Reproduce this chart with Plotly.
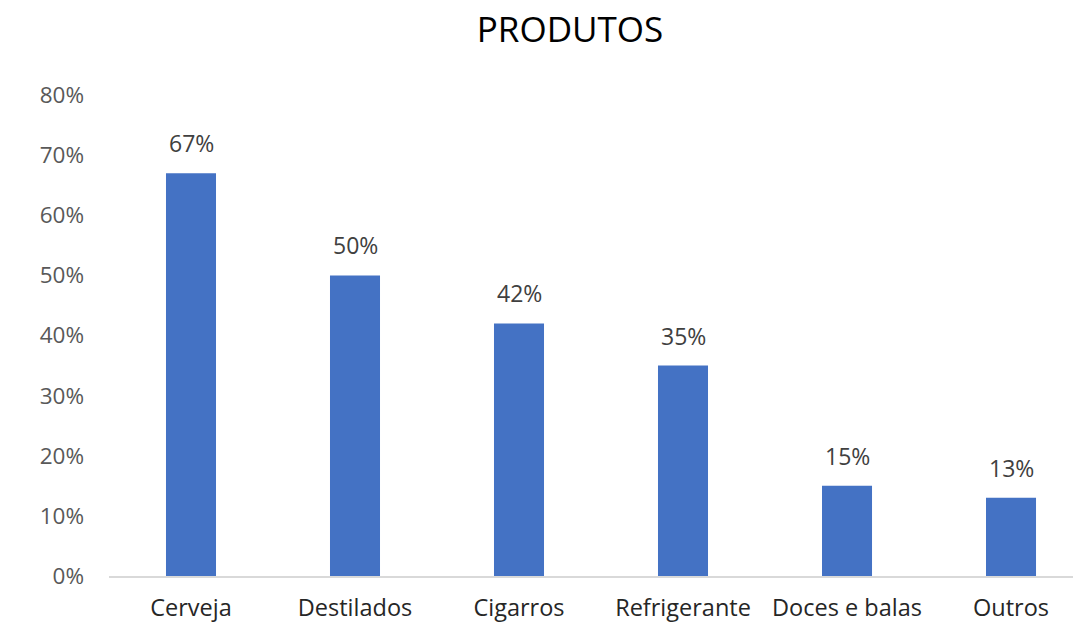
import plotly.graph_objects as go

categorias = ["Cerveja", "Destilados", "Cigarros", "Refrigerante", "Doces e balas", "Outros"]
percentuais = [0.67, 0.50, 0.42, 0.35, 0.15, 0.13]
rotulos = ["67%", "50%", "42%", "35%", "15%", "13%"]
ticks_y = [0, 0.1, 0.2, 0.3, 0.4, 0.5, 0.6, 0.7, 0.8]
ticks_y_txt = ["0%", "10%", "20%", "30%", "40%", "50%", "60%", "70%", "80%"]

FONTE = "Open Sans, Noto Sans, sans-serif"

fig = go.Figure(
    go.Bar(
        x=categorias,
        y=percentuais,
        marker=dict(color="#4472C4", line=dict(width=0)),
        width=0.305,
        hoverinfo="x+y",
    )
)

# rótulos de dados acima de cada barra
for cat, val, txt in zip(categorias, percentuais, rotulos):
    fig.add_annotation(
        x=cat,
        y=val,
        text=txt,
        showarrow=False,
        xanchor="center",
        yanchor="bottom",
        yshift=12,
        font=dict(family=FONTE, size=23, color="#404040"),
    )

fig.update_layout(
    width=1075,
    height=627,
    margin=dict(l=109, r=2, t=95, b=51),
    paper_bgcolor="white",
    plot_bgcolor="white",
    showlegend=False,
    title=dict(
        text="PRODUTOS",
        x=570 / 1075,
        xref="container",
        xanchor="center",
        y=1 - 30 / 627,
        yref="container",
        yanchor="middle",
        font=dict(family=FONTE, size=35, color="#000000"),
    ),
    xaxis=dict(
        type="category",
        range=[-0.5, 5.378],
        showline=True,
        linecolor="#D9D9D9",
        linewidth=1.5,
        ticks="",
        showgrid=False,
        tickfont=dict(family=FONTE, size=23.5, color="#262626"),
        ticklabelstandoff=10,
    ),
    yaxis=dict(
        range=[0, 0.8],
        tickvals=ticks_y,
        ticktext=ticks_y_txt,
        showgrid=False,
        zeroline=False,
        showline=False,
        ticks="",
        tickfont=dict(family=FONTE, size=22.5, color="#595959"),
        ticklabelstandoff=24,
    ),
)

fig.write_html("out.html")
